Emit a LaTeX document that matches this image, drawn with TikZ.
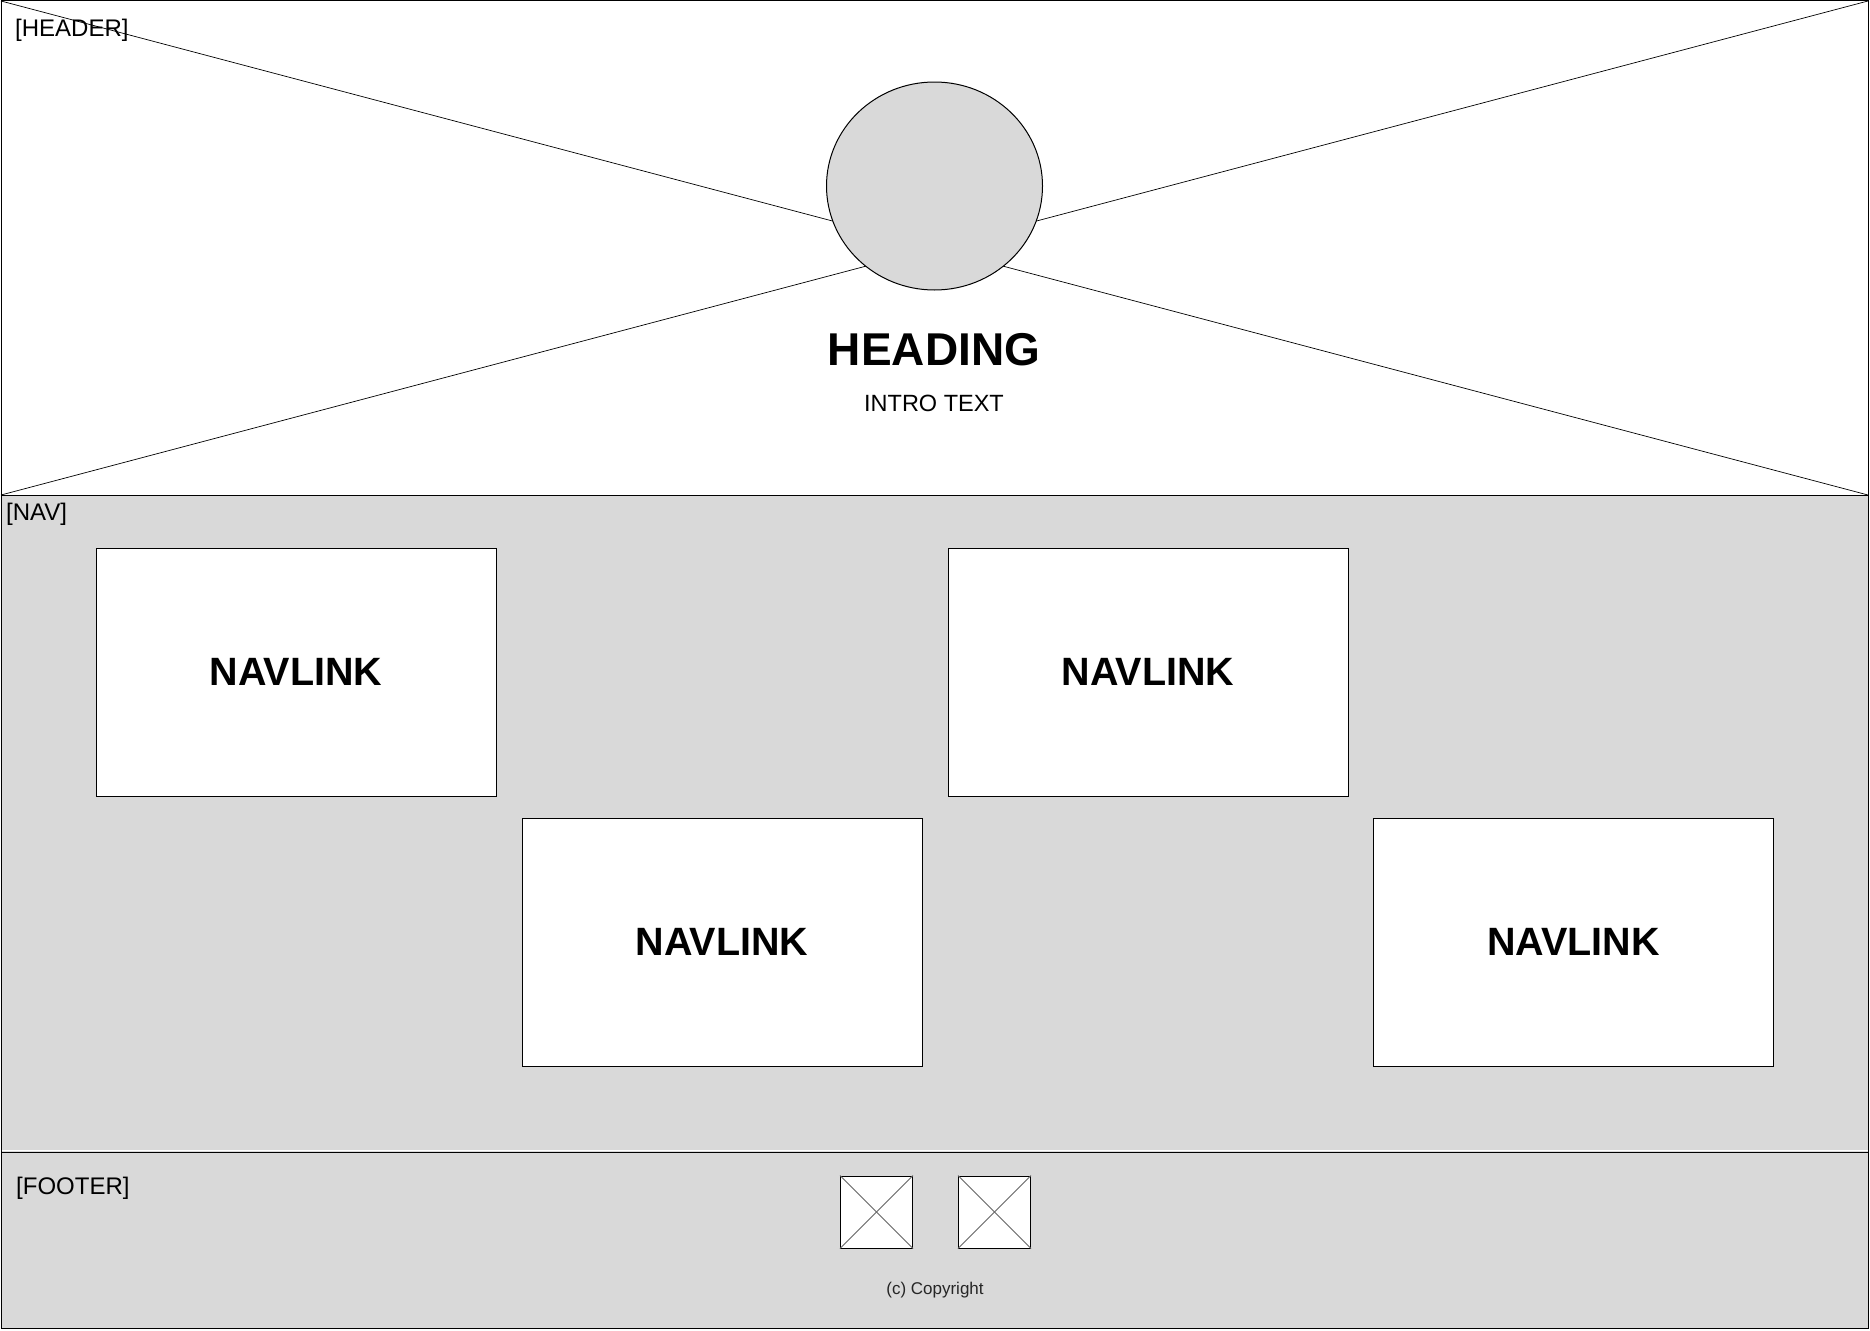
\documentclass[tikz,border=0pt]{standalone}
\usepackage{fontspec}
\setmainfont{Liberation Sans}
\usetikzlibrary{shapes.geometric}
\definecolor{wfgrey}{HTML}{D9D9D9}
\definecolor{crossgrey}{HTML}{666666}
\tikzset{
  section/.style={draw=black, line width=1pt},
  navbox/.style={draw=black, fill=white, line width=1pt, minimum width=400pt, minimum height=248pt, inner sep=0pt, anchor=center, font=\fontsize{39.5}{44}\selectfont\bfseries},
  iconbox/.style={draw=black, fill=white, line width=1pt, minimum width=72pt, minimum height=72pt, inner sep=0pt},
  lbl/.style={inner sep=0pt, anchor=base west, font=\fontsize{24}{28}\selectfont},
  cross/.style={draw=crossgrey, line width=0.8pt},
  diag/.style={draw=black, line width=0.7pt}
}
\begin{document}
\begin{tikzpicture}[x=1pt,y=-1pt]
\useasboundingbox (0,0) rectangle (1870,1330);
% sections
\fill[white] (1,1) rectangle (1868,495);
\fill[wfgrey] (1,495) rectangle (1868,1328);
% header diagonals
\coordinate (tl) at (1,1);
\coordinate (tr) at (1868,1);
\coordinate (bl) at (1,495);
\coordinate (br) at (1868,495);
\draw[diag] (tl) -- (br);
\draw[diag] (bl) -- (tr);
\draw[section] (1,1) rectangle (1868,495);
\draw[section] (1,495) rectangle (1868,1152);
\draw[white, line width=0.8pt] (1.5,1150.5) -- (1867.5,1150.5);
\draw[section] (1,1152) rectangle (1868,1328);
% header content
\node[ellipse, draw=black, fill=wfgrey, line width=1pt, minimum width=216pt, minimum height=208pt, inner sep=0pt] (logo) at (934.5,186) {};
\node[lbl] (hlabel) at (15,36.5) {[HEADER]};
\node[inner sep=0pt, anchor=base, font=\fontsize{46}{50}\selectfont\bfseries] (heading) at (934,365) {HEADING};
\node[inner sep=0pt, anchor=base, font=\fontsize{23.5}{26}\selectfont] (intro) at (934,411.5) {INTRO TEXT};
% nav
\node[lbl] (nlabel) at (6,520) {[NAV]};
\node[navbox] (n1) at (296,672) {NAVLINK};
\node[navbox] (n2) at (1148,672) {NAVLINK};
\node[navbox] (n3) at (722,942) {NAVLINK};
\node[navbox] (n4) at (1573.5,942) {NAVLINK};
% footer
\node[lbl] (flabel) at (16,1194) {[FOOTER]};
\node[iconbox] (i1) at (876.5,1212) {};
\node[iconbox] (i2) at (994.5,1212) {};
\draw[cross] (i1.north west) -- (i1.south east);
\draw[cross] (i1.south west) -- (i1.north east);
\draw[cross] (i2.north west) -- (i2.south east);
\draw[cross] (i2.south west) -- (i2.north east);
\node[inner sep=0pt, anchor=base, text=black!85, font=\fontsize{17}{19}\selectfont] (copy) at (935,1294) {(c) Copyright};
\end{tikzpicture}
\end{document}
